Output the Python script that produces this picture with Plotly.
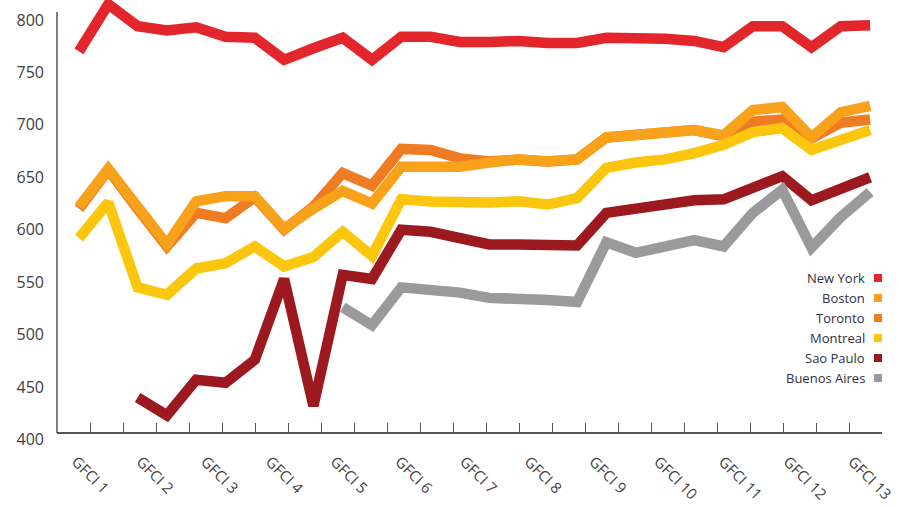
import plotly.graph_objects as go

# GFCI index ratings, sampled twice per edition (28 readings)
rounds = list(range(28))
gfci_labels = [f"GFCI {n}" for n in range(1, 14)]

new_york = [770, 815, 794, 790, 793, 784, 783, 762, 773, 783, 762, 784, 784, 779,
            779, 780, 778, 778, 783, 783, 782, 780, 774, 794, 794, 774, 794, 795]
boston = [622, 658, 622, 586, 627, 632, 632, 601, 620, 637, 625, 660, 660, 660,
          664, 667, 665, 667, 688, 690, 693, 695, 690, 714, 717, 688, 712, 718]
toronto = [620, 657, 620, 584, 616, 611, 631, 600, 622, 654, 642, 677, 676, 668,
           665, 667, 665, 667, 688, 690, 693, 695, 689, 703, 705, 687, 702, 705]
montreal = [592, 626, 545, 538, 563, 568, 584, 565, 574, 598, 575, 629, 627, 626,
            626, 627, 624, 630, 659, 664, 667, 673, 681, 693, 697, 676, 686, 695]
sao_paulo = [None, None, 440, 423, 457, 454, 476, 553, 432, 557, 553, 600, 598, 591,
             586, 586, 586, 585, 616, 620, 623, 628, 629, 640, 651, 628, 640, 650]
buenos_aires = [None] * 9 + [526, 509, 545, 543, 540, 535, 535, 533, 531, 588, 578,
                             585, 590, 584, 616, 638, 583, 612, 636]

names = ["New York", "Boston", "Toronto", "Montreal", "Sao Paulo", "Buenos Aires"]
colors = ["#E3262B", "#F8A11B", "#EF7B22", "#FDC60E", "#9C1A1F", "#9A9A9D"]
series = [new_york, boston, toronto, montreal, sao_paulo, buenos_aires]

# drawing order: later series sit on top
draw_order = [0, 2, 1, 4, 3, 5]

W, H = 901, 506
ml, mr, mt, mb = 57, 19, 0, 66
pw, ph = W - ml - mr, H - mt - mb

fig = go.Figure()
for k in draw_order:
    fig.add_trace(go.Scatter(
        x=rounds, y=series[k], mode="lines", name=names[k],
        line=dict(color=colors[k], width=10.5),
        connectgaps=False, showlegend=False, hoverinfo="skip",
    ))

# placeholder traces so the tick and label axes are drawn
fig.add_trace(go.Scatter(x=[None], y=[None], xaxis="x2", showlegend=False, hoverinfo="skip"))
fig.add_trace(go.Scatter(x=[None], y=[None], xaxis="x3", showlegend=False, hoverinfo="skip"))

axis_pos = 7 / ph  # x axis line sits a little above the 400 gridline
grey = "#555555"

fig.update_layout(
    width=W, height=H,
    margin=dict(l=ml, r=mr, t=mt, b=mb, autoexpand=False),
    paper_bgcolor="white", plot_bgcolor="white",
    font=dict(family="Open Sans", color="#3d3d3d"),
    xaxis=dict(range=[-0.751, 27.406], showgrid=False, zeroline=False,
               showticklabels=False, ticks="", showline=False, fixedrange=True,
               automargin=False),
    xaxis2=dict(overlaying="x", anchor="free", position=axis_pos, side="bottom",
                range=[-1, 24], tick0=0, dtick=1, ticks="inside", ticklen=9,
                tickwidth=1.3, tickcolor=grey, showline=True, linecolor=grey,
                linewidth=1.5, showticklabels=False, showgrid=False, zeroline=False,
                automargin=False),
    xaxis3=dict(overlaying="x", anchor="free", position=axis_pos, side="bottom",
                range=[0.7063, 13.457], tickvals=list(range(1, 14)),
                ticktext=gfci_labels, tickangle=45, ticks="", showline=False,
                showgrid=False, zeroline=False, ticklabelstandoff=16,
                automargin=False, tickfont=dict(size=15, color="#444444")),
    yaxis=dict(range=[399.5, 819], tick0=400, dtick=50, showgrid=False,
               zeroline=False, showline=False, ticks="", ticklabelstandoff=12,
               automargin=False, tickfont=dict(size=16, color="#3d3d3d")),
)

# vertical axis line
fig.add_shape(type="line", xref="paper", yref="paper", x0=0, x1=0,
              y0=axis_pos, y1=(ph - 12) / ph, line=dict(color=grey, width=1.5))

# legend: names right-aligned with a colour swatch to the right
leg_right = (867 - ml) / pw
sw0, sw1 = (874 - ml) / pw, (882 - ml) / pw
for r, (nm, c) in enumerate(zip(names, colors)):
    yc = (ph - (278 + 20 * r)) / ph
    fig.add_annotation(x=leg_right, y=yc, xref="paper", yref="paper", text=nm,
                       showarrow=False, xanchor="right", yanchor="middle",
                       font=dict(size=13, color="#2f2f45"))
    fig.add_shape(type="rect", xref="paper", yref="paper", x0=sw0, x1=sw1,
                  y0=yc - 4 / ph, y1=yc + 4 / ph, fillcolor=c, line=dict(width=0))

fig.write_html("out.html")
